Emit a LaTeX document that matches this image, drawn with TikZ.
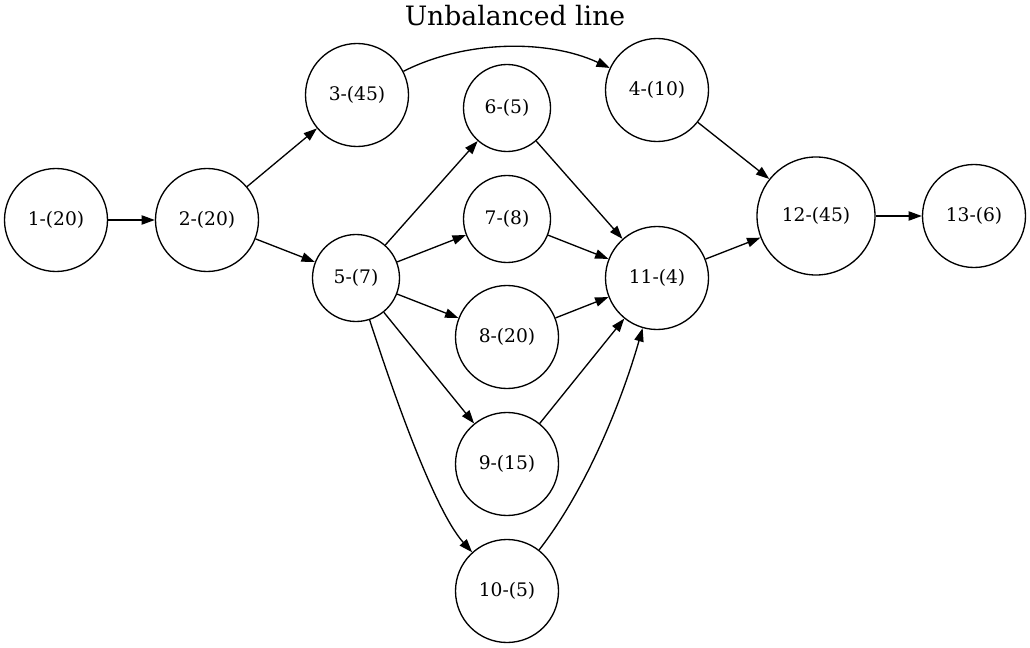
\documentclass[tikz,border=0pt]{standalone}
\usepackage{fontspec}
\setmainfont{DejaVu Serif}
\usetikzlibrary{arrows.meta}

\begin{document}
\begin{tikzpicture}[x=0.75pt,y=-0.75pt,line width=1pt,>={Triangle[length=10pt,width=7pt]},
  task/.style={circle,draw,inner sep=0pt,minimum size=77.25pt,font=\fontsize{14}{16}\selectfont},
  small/.style={task,minimum size=65.25pt},
  big/.style={task,minimum size=88.5pt}]
\useasboundingbox (0,0) rectangle (1030,648);
\node [anchor=base,font=\fontsize{20}{24}\selectfont] (title) at (515,26) {Unbalanced line};

\node [task] (1) at (56,220) {1-(20)};
\node [task] (2) at (207,220) {2-(20)};
\node [task] (3) at (357,95) {3-(45)};
\node [task] (4) at (657,90) {4-(10)};
\node [small] (5) at (356,278) {5-(7)};
\node [small] (6) at (507,108) {6-(5)};
\node [small] (7) at (507,219) {7-(8)};
\node [task] (8) at (507,337) {8-(20)};
\node [task] (9) at (507,464) {9-(15)};
\node [task] (10) at (507,591) {10-(5)};
\node [task] (11) at (657,278) {11-(4)};
\node [big] (12) at (816,216) {12-(45)};
\node [task] (13) at (974,216) {13-(6)};

\draw [->] (1) -- (2);
\draw [->] (2) -- (3);
\draw [->] (2) -- (5);
\draw [->] (3) to[out=27,in=155,looseness=0.85] (4);
\draw [->] (4) -- (12);
\draw [->] (5) -- (6);
\draw [->] (5) -- (7);
\draw [->] (5) -- (8);
\draw [->] (5) -- (9);
\draw [->] (5) to[out=-72,in=132,looseness=0.6] (10);
\draw [->] (6) -- (11);
\draw [->] (7) -- (11);
\draw [->] (8) -- (11);
\draw [->] (9) -- (11);
\draw [->] (10) to[out=52,in=-106,looseness=0.8] (11);
\draw [->] (11) -- (12);
\draw [->] (12) -- (13);
\end{tikzpicture}
\end{document}
